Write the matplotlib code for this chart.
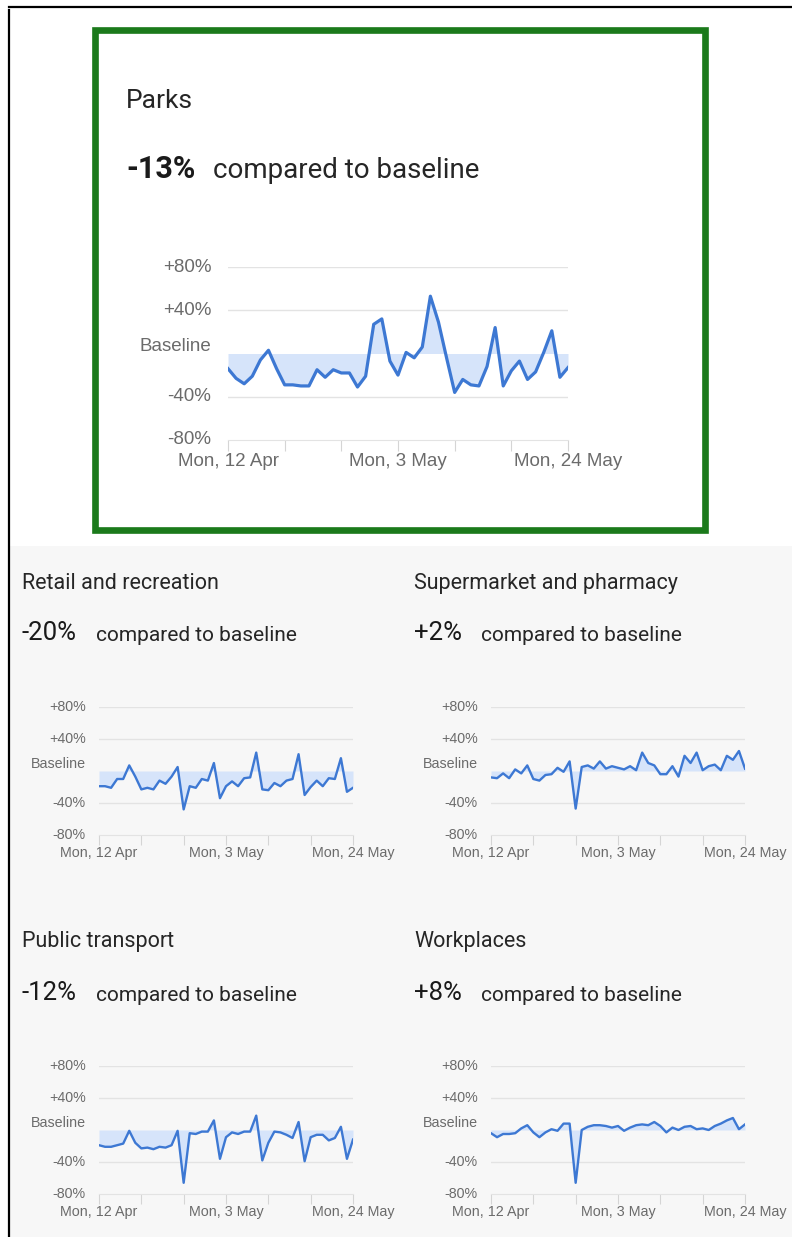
import matplotlib
matplotlib.use("Agg")
import matplotlib.pyplot as plt
import pandas as pd
from matplotlib.lines import Line2D
from matplotlib.patches import Rectangle

W, H = 792, 1237

dates = pd.date_range("2021-04-12", "2021-05-24", freq="D")
week_ticks = pd.date_range("2021-04-12", "2021-05-24", freq="7D")
week_labels = ["Mon, 12 Apr", "", "", "Mon, 3 May", "", "", "Mon, 24 May"]
y_ticks = [80, 40, 0, -40, -80]
y_labels = ["+80%", "+40%", "Baseline", "-40%", "-80%"]
grid_levels = [80, 40, -40]

titles = ["Parks", "Retail and recreation", "Supermarket and pharmacy",
          "Public transport", "Workplaces"]
changes = ["-13%", "-20%", "+2%", "-12%", "+8%"]

parks = [-14, -23, -28, -21, -6, 3, -14, -29, -29, -30, -30, -15, -22, -15,
         -18, -18, -31, -21, 27, 32, -7, -20, 1, -4, 6, 53, 29, -4, -36, -24,
         -29, -30, -12, 24, -30, -16, -7, -24, -17, 1, 21, -22, -13]
retail = [-19, -19, -21, -10, -10, 7, -7, -23, -21, -23, -12, -16, -7, 5,
          -48, -19, -21, -10, -12, 10, -34, -19, -13, -19, -9, -8, 23, -23,
          -24, -15, -19, -12, -10, 21, -30, -20, -12, -19, -9, -10, 16, -26, -21]
supermarket = [-8, -9, -3, -9, 2, -3, 7, -10, -12, -5, -4, 4, -1, 12, -47, 5,
               7, 3, 12, 3, 6, 4, 2, 6, 1, 23, 10, 7, -4, -4, 6, -7, 19, 10, 23,
               1, 6, 8, 1, 19, 14, 25, 3]
transport = [-19, -21, -21, -19, -17, -1, -16, -23, -22, -24, -21, -22, -19, -1,
             -66, -4, -5, -2, -2, 12, -36, -9, -3, -5, -2, -2, 18, -38, -16, -2,
             -3, -6, -10, 10, -39, -9, -6, -6, -13, -10, 4, -36, -12]
workplaces = [-4, -9, -5, -5, -4, 2, 6, -3, -9, -3, 1, -1, 8, 8, -66, 0, 4, 6,
              6, 5, 3, 5, -1, 3, 6, 7, 6, 10, 5, -3, 3, 0, 4, 5, 1, 2, 0, 5, 8,
              12, 15, 1, 7]
series = [parks, retail, supermarket, transport, workplaces]

LINE = "#3d78d3"
FILL = "#d6e4fa"
GRID = "#e3e3e3"
LABEL = "#6b6b6b"
TEXT = "#262626"
TITLE_FONT = ["Roboto", "DejaVu Sans"]
AXIS_FONT = ["Liberation Sans", "DejaVu Sans"]


def fx(x):
    return x / W


def fy(y):
    return 1 - y / H


fig = plt.figure(figsize=(W / 100, H / 100), dpi=100)
fig.patch.set_facecolor("white")

# light grey page under the small cards
fig.patches.append(Rectangle((fx(10), 0), 1 - fx(10), fy(546), transform=fig.transFigure,
                             facecolor="#f7f7f7", edgecolor="none", zorder=-5))
# black frame lines of the screenshot
fig.add_artist(Line2D([fx(9), 1], [fy(7), fy(7)], color="black", lw=1.6))
fig.add_artist(Line2D([fx(9), fx(9)], [fy(10), fy(1236)], color="black", lw=1.6))
# green highlight box round Parks
fig.patches.append(Rectangle((fx(95), fy(530)), fx(610), 500 / H, transform=fig.transFigure,
                             facecolor="none", edgecolor="#1b7a1b", lw=4.8, zorder=3))

# panel layout in pixels: axes left, top, right, bottom, and text positions
panels = [
    dict(ax=(228, 267, 568, 440), title=(126, 108), num=(126, 178), big=True),
    dict(ax=(99, 707, 353, 835), title=(22, 589), num=(22, 640), big=False),
    dict(ax=(491, 707, 745, 835), title=(414, 589), num=(414, 640), big=False),
    dict(ax=(99, 1066, 353, 1194), title=(22, 947), num=(22, 1000), big=False),
    dict(ax=(491, 1066, 745, 1194), title=(414, 947), num=(414, 1000), big=False),
]

for p, title, change, vals in zip(panels, titles, changes, series):
    big = p["big"]
    l, t, r, b = p["ax"]
    ax = fig.add_axes([fx(l), fy(b), (r - l) / W, (b - t) / H])
    ax.set_facecolor("none")

    ax.fill_between(dates, vals, 0, color=FILL, lw=0, zorder=1)
    ax.plot(dates, vals, color=LINE, lw=2.3 if big else 1.7, zorder=3)
    for g in grid_levels:
        ax.axhline(g, color=GRID, lw=1, zorder=0)

    ax.set_xlim(dates[0], dates[-1])
    ax.set_ylim(-80, 80)
    ax.set_yticks([])
    for s in ["top", "right", "left"]:
        ax.spines[s].set_visible(False)
    ax.spines["bottom"].set_color(GRID)

    fs_axis = 13.5 if big else 10.3
    ax.set_xticks(week_ticks, week_labels)
    ax.tick_params(axis="x", direction="out", length=8 if big else 7, color="#d5d5d5",
                   labelcolor=LABEL, labelsize=fs_axis, pad=1)
    for lab in ax.get_xticklabels():
        lab.set_family(AXIS_FONT)

    pad = 12 if big else 9.5
    for val, lab in zip(y_ticks, y_labels):
        dy = 5 if val == 0 else 0
        ax.annotate(lab, xy=(0, val), xycoords=("axes fraction", "data"),
                    xytext=(-pad, dy), textcoords="offset points", ha="right",
                    va="center", color=LABEL, fontsize=fs_axis, family=AXIS_FONT)

    tx, ty = p["title"]
    fig.text(fx(tx), fy(ty), title, fontsize=19 if big else 15.5, color=TEXT,
             family=TITLE_FONT, va="baseline")
    nx, ny = p["num"]
    num = fig.text(fx(nx), fy(ny), change, fontsize=22 if big else 18.5,
                   fontweight="bold" if big else "normal", color="#1a1a1a",
                   family=TITLE_FONT, va="baseline")
    ax.annotate("compared to baseline", xy=(1, 0), xycoords=num,
                xytext=(13 if big else 14, 0), textcoords="offset points",
                va="bottom", ha="left", fontsize=20 if big else 15,
                color=TEXT, family=TITLE_FONT, annotation_clip=False)

fig.savefig("out.png", dpi=100)
